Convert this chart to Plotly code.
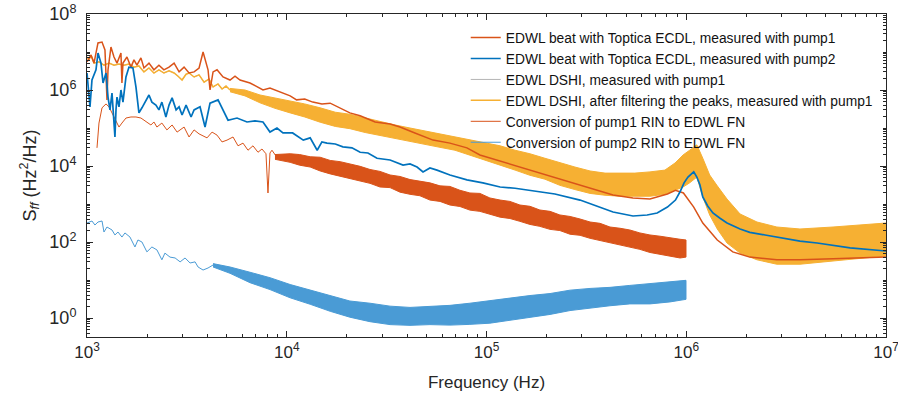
import plotly.graph_objects as go

# ---------------- data ----------------
# A: EDWL beat with Toptica ECDL, measured with pump1
A_freq = [1000, 1047, 1084, 1135, 1189, 1230, 1245, 1259, 1274, 1318,
          1365, 1413, 1479, 1496, 1514, 1585, 1660, 1718, 1778, 1862,
          1928, 2043, 2163, 2291, 2427, 2574, 2729, 2891, 3062, 3243,
          3436, 3639, 3811, 3945, 4036, 4130, 4276, 4477, 4797, 5200,
          5508, 5834, 6546, 7015, 7603, 8241, 9250, 10.4e3, 11.2e3, 12.3e3,
          13.5e3, 15.0e3, 16.5e3, 18.5e3, 20.7e3, 23.3e3, 27.7e3, 32.9e3, 36.9e3, 43.8e3,
          54.0e3, 65.6e3, 79.8e3, 92.7e3, 117e3, 139e3, 165e3, 220e3, 294e3, 370e3,
          430e3, 541e3, 658e3, 805e3, 883e3, 968e3, 1.09e6, 1.21e6, 1.43e6, 1.71e6,
          2.08e6, 2.84e6, 3.71e6, 5.43e6, 1e7]
A_val = [5.5e6, 8.3e6, 5.1e6, 1.73e7, 1.83e7, 1.13e7, 2.5e6, 5.5e5, 3.4e6, 1.35e7,
         7.4e6, 5.1e6, 9.4e6, 1.53e6, 5.1e6, 7.4e6, 4.0e6, 6.2e6, 4.5e6, 7.0e6,
         3.8e6, 5.1e6, 3.4e6, 4.5e6, 3.4e6, 4.0e6, 5.1e6, 3.0e6, 4.0e6, 2.8e6,
         3.0e6, 3.8e6, 1.0e7, 5.5e6, 3.4e6, 1.0e6, 3.0e6, 3.4e6, 2.2e6, 1.83e6,
         2.3e6, 1.83e6, 1.53e6, 1.27e6, 1.0e6, 1.13e6, 8.9e5, 7.0e5, 5.5e5, 5.8e5,
         4.8e5, 4.3e5, 4.5e5, 3.4e5, 2.5e5, 2.1e5, 1.44e5, 1.27e5, 1.06e5, 7.4e4,
         4.8e4, 4.0e4, 3.0e4, 1.95e4, 1.35e4, 1.06e4, 7.8e3, 5.1e3, 3.2e3, 2.2e3,
         1.73e3, 1.44e3, 1.35e3, 1.83e3, 2.3e3, 1.95e3, 830, 316, 113, 55,
         40, 34, 34, 36, 40]

# B: EDWL beat with Toptica ECDL, measured with pump2
B_freq = [1000, 1023, 1035, 1059, 1109, 1135, 1175, 1203, 1245, 1274,
          1303, 1334, 1365, 1380, 1397, 1413, 1446, 1479, 1514, 1567,
          1622, 1698, 1758, 1820, 1884, 1972, 2043, 2113, 2213, 2291,
          2371, 2483, 2574, 2667, 2793, 2891, 2992, 3133, 3319, 3436,
          3680, 3899, 4130, 4529, 4797, 5082, 5636, 6324, 6934, 7603,
          8241, 8933, 9572, 10.7e3, 12.1e3, 13.1e3, 14.2e3, 15.0e3, 15.9e3, 17.5e3,
          19.1e3, 21.2e3, 23.3e3, 25.5e3, 28.3e3, 32.9e3, 38.2e3, 41.4e3, 44.9e3, 48.1e3,
          52.1e3, 56.5e3, 65.6e3, 79.8e3, 95.9e3, 117e3, 139e3, 165e3, 220e3, 294e3,
          370e3, 430e3, 541e3, 637e3, 715e3, 805e3, 883e3, 931e3, 975e3, 1.02e6,
          1.09e6, 1.13e6, 1.17e6, 1.21e6, 1.28e6, 1.36e6, 1.47e6, 1.60e6, 1.86e6, 2.08e6,
          2.48e6, 3.05e6, 3.71e6, 4.52e6, 6.61e6, 1e7]
B_val = [2.8e6, 6.5e5, 3.6e5, 1.83e6, 3.4e6, 9.4e6, 5.1e6, 1.53e6, 2.8e6, 6.5e5,
         3.0e5, 8.3e5, 1.6e5, 5.8e4, 3.0e5, 6.5e5, 3.6e5, 1.0e6, 4.8e5, 2.2e6,
         4.0e6, 3.8e6, 1.2e6, 2.5e5, 3.4e5, 5.5e5, 7.4e5, 4.8e5, 4.0e5, 3.0e5,
         4.8e5, 1.95e5, 4.0e5, 6.2e5, 3.0e5, 3.6e5, 2.2e5, 4.0e5, 1.95e5, 3.0e5,
         3.6e5, 1.06e5, 4.5e5, 5.5e5, 3.0e5, 1.6e5, 1.83e5, 1.44e5, 1.53e5, 1.44e5,
         7.8e4, 1.0e5, 7.4e4, 7.4e4, 4.8e4, 5.5e4, 2.6e4, 4.3e4, 4.0e4, 3.8e4,
         3.2e4, 3.0e4, 2.3e4, 2.2e4, 1.6e4, 1.44e4, 1.06e4, 1.13e4, 9.4e3, 7.0e3,
         8.9e3, 7.8e3, 5.8e3, 4.3e3, 3.6e3, 2.8e3, 2.6e3, 2.3e3, 1.83e3, 1.27e3,
         830, 615, 483, 514, 580, 830, 1.27e3, 2.1e3, 3.6e3, 5.1e3,
         7.0e3, 5.1e3, 3.2e3, 1.53e3, 890, 580, 428, 316, 220, 180,
         153, 127, 106, 94, 70, 58]

# D: EDWL DSHI, after filtering the peaks (low-frequency trace + noise band)
D_freq = [1000, 1023, 1047, 1084, 1148, 1216, 1289, 1365, 1446, 1531,
          1622, 1718, 1820, 1928, 2043, 2163, 2291, 2427, 2574, 2729,
          2858, 2992, 3133, 3243, 3436, 3639, 3855, 4083, 4276, 4529,
          4742, 4966, 5200]
D_val = [7.4e6, 6.2e6, 8.3e6, 5.1e6, 5.5e6, 4.5e6, 5.1e6, 4.5e6, 4.8e6, 4.5e6,
         4.8e6, 4.0e6, 4.3e6, 3.0e6, 3.8e6, 2.8e6, 3.4e6, 2.8e6, 3.2e6, 2.8e6,
         2.3e6, 1.83e6, 2.6e6, 2.8e6, 2.2e6, 2.5e6, 1.6e6, 1.95e6, 1.2e6, 1.44e6,
         1.06e6, 1.27e6, 1.0e6]
D_band_freq = [5200, 6180, 7345, 8730, 10.4e3, 12.3e3, 14.7e3, 17.5e3, 20.7e3, 24.7e3,
               29.3e3, 34.9e3, 41.4e3, 49.2e3, 58.5e3, 69.5e3, 82.6e3, 98.2e3, 117e3, 139e3,
               165e3, 196e3, 233e3, 277e3, 330e3, 392e3, 466e3, 553e3, 658e3, 782e3,
               879e3, 964e3, 1.04e6, 1.13e6, 1.21e6, 1.31e6, 1.43e6, 1.60e6, 1.86e6, 2.26e6,
               2.84e6, 3.71e6, 5.43e6, 8.04e6, 1e7]
D_band_hi = [1.1e6, 1.0e6, 7.4e5, 6.2e5, 5.1e5, 4.3e5, 3.4e5, 2.6e5, 2.3e5, 1.83e5,
             1.53e5, 1.2e5, 1.0e5, 8.3e4, 7.0e4, 5.8e4, 4.8e4, 4.0e4, 3.4e4, 2.6e4,
             2.1e4, 1.6e4, 1.2e4, 9.4e3, 7.4e3, 6.5e3, 6.5e3, 6.5e3, 7.0e3, 7.8e3,
             1.2e4, 1.95e4, 2.6e4, 3.6e4, 1.6e4, 5.8e3, 3.0e3, 1.35e3, 546, 336,
             248, 220, 248, 298, 316]
D_band_lo = [9.0e5, 7.0e5, 4.6e5, 3.3e5, 2.5e5, 1.95e5, 1.42e5, 1.1e5, 9.6e4, 7.6e4,
             6.3e4, 5.2e4, 4.4e4, 3.7e4, 3.1e4, 2.6e4, 1.9e4, 1.4e4, 1.05e4, 7.8e3,
             5.7e3, 4.5e3, 3.1e3, 2.4e3, 1.9e3, 1.7e3, 1.6e3, 1.6e3, 1.6e3, 1.8e3,
             2.3e3, 2.8e3, 3.6e3, 5.1e3, 1.53e3, 514, 220, 94, 51, 34,
             26, 26, 31.6, 38, 43]

# C: EDWL DSHI, measured with pump1 (lies underneath D)
C_freq = D_freq + [11.6e3, 36.9e3, 117e3, 294e3, 658e3, 1.04e6, 1.17e6, 1.47e6, 2.34e6, 3.71e6, 1e7]
C_val = D_val + [3.0e5, 7.4e4, 1.83e4, 3.8e3, 3.2e3, 9.4e3, 1.06e4, 940, 106, 79, 113]

# E: Conversion of pump1 RIN to EDWL FN
E_freq = [1122, 1148, 1189, 1245, 1289, 1334, 1397, 1446, 1496, 1567,
          1660, 1758, 1862, 1972, 2089, 2163, 2239, 2371, 2512, 2667,
          2825, 3062, 3243, 3436, 3639, 3990, 4227, 4477, 4742, 5023,
          5383, 5702, 6039, 6397, 6776, 7178, 7516, 7870, 8054, 8241,
          8433, 8830, 9250]
E_val = [3.0e4, 1.35e5, 3.4e5, 4.3e5, 3.6e5, 2.5e5, 1.44e5, 1.06e5, 1.35e5, 1.83e5,
         1.95e5, 1.95e5, 1.83e5, 1.44e5, 1.2e5, 1.44e5, 1.06e5, 1.35e5, 8.9e4, 1.2e5,
         7.8e4, 1.06e5, 5.8e4, 8.9e4, 7.0e4, 5.5e4, 7.8e4, 6.5e4, 4.3e4, 4.8e4,
         5.8e4, 3.4e4, 4.0e4, 2.6e4, 3.4e4, 2.3e4, 2.8e4, 2.1e4, 1.95e3, 2.2e4,
         2.6e4, 1.83e4, 1.73e4]
E_band_freq = [8730, 10.4e3, 11.6e3, 13.1e3, 14.7e3, 16.5e3, 18.5e3, 20.7e3, 23.3e3, 26.1e3,
               29.3e3, 32.9e3, 36.9e3, 41.4e3, 46.4e3, 52.1e3, 58.5e3, 65.6e3, 73.6e3, 82.6e3,
               92.7e3, 104e3, 117e3, 131e3, 147e3, 165e3, 185e3, 208e3, 233e3, 262e3,
               294e3, 330e3, 370e3, 415e3, 466e3, 522e3, 586e3, 658e3, 739e3, 829e3,
               931e3, 997e3]
E_band_hi = [2.0e4, 2.1e4, 2.0e4, 1.75e4, 1.7e4, 1.4e4, 1.3e4, 1.15e4, 9.8e3, 8.1e3,
             7.2e3, 5.8e3, 5.3e3, 4.4e3, 3.9e3, 3.6e3, 3.0e3, 2.9e3, 2.3e3, 1.95e3,
             1.9e3, 1.44e3, 1.27e3, 1.17e3, 940, 870, 695, 640, 514, 470,
             403, 336, 310, 248, 230, 207, 173, 153, 142, 127,
             118, 113]
E_band_lo = [1.5e4, 1.25e4, 1.05e4, 9.4e3, 7.4e3, 6.2e3, 5.4e3, 4.7e3, 4.0e3, 3.5e3,
             2.8e3, 2.7e3, 2.05e3, 1.8e3, 1.65e3, 1.27e3, 1.17e3, 940, 860, 690,
             640, 530, 450, 415, 350, 290, 258, 215, 200, 160,
             150, 125, 110, 98, 86, 73, 64, 53, 47, 42,
             38, 40]

# F: Conversion of pump2 RIN to EDWL FN
F_freq = [1000, 1059, 1096, 1135, 1189, 1216, 1259, 1334, 1380, 1429,
          1496, 1549, 1641, 1738, 1799, 1884, 1995, 2113, 2239, 2371,
          2455, 2604, 2761, 2925, 3097, 3281, 3475, 3597, 3811, 4036,
          4276]
F_val = [316, 357, 280, 336, 357, 183, 248, 207, 153, 183,
         135, 173, 135, 74, 113, 100, 55, 74, 62, 34,
         51, 40, 38, 30, 38, 28, 30, 22, 18.3, 20.7,
         24.8]
F_band_freq = [4276, 5200, 6546, 8241, 10.4e3, 13.1e3, 16.5e3, 20.7e3, 26.1e3, 32.9e3,
               41.4e3, 52.1e3, 65.6e3, 82.6e3, 104e3, 131e3, 165e3, 208e3, 262e3, 330e3,
               415e3, 522e3, 658e3, 829e3, 997e3]
F_band_hi = [27, 22, 16, 11.5, 7.6, 5.4, 3.9, 2.8, 2.45, 2.05,
             1.9, 2.0, 2.15, 2.45, 2.9, 3.3, 3.9, 4.4, 5.4, 6.0,
             6.4, 7.2, 8.1, 9.2, 9.8]
F_band_lo = [22, 15, 8.5, 5.6, 3.4, 2.3, 1.5, 1.05, 0.8, 0.67,
             0.64, 0.67, 0.65, 0.68, 0.73, 0.86, 1.03, 1.24, 1.57, 1.78,
             2.1, 2.35, 2.35, 2.65, 3.1]

names = ["EDWL beat with Toptica ECDL, measured with pump1",
         "EDWL beat with Toptica ECDL, measured with pump2",
         "EDWL DSHI, measured with pump1",
         "EDWL DSHI, after filtering the peaks, measured with pump1",
         "Conversion of pump1 RIN to EDWL FN",
         "Conversion of pump2 RIN to EDWL FN"]

x_ticks = [1e3, 1e4, 1e5, 1e6, 1e7]
x_ticktext = ["10<sup>3</sup>", "10<sup>4</sup>", "10<sup>5</sup>", "10<sup>6</sup>", "10<sup>7</sup>"]
y_ticks = [1, 1e2, 1e4, 1e6, 1e8]
y_ticktext = ["10<sup>0</sup>", "10<sup>2</sup>", "10<sup>4</sup>", "10<sup>6</sup>", "10<sup>8</sup>"]

# ---------------- styles ----------------
COL_A = "#D95319"
COL_B = "#0072BD"
COL_C = "#B4B4B4"
COL_D = "#F6B033"
COL_E = "#D95319"
COL_F = "#4A9BD5"
AXC = "#262626"

fig = go.Figure()


def line(fx, fy, color, width, name, rank, show=True):
    fig.add_trace(go.Scatter(x=fx, y=fy, mode="lines", name=name,
                             line=dict(color=color, width=width),
                             showlegend=show, legendrank=rank, hoverinfo="skip"))


def band(fx, hi, lo, color):
    fig.add_trace(go.Scatter(x=list(fx) + list(fx)[::-1], y=list(hi) + list(lo)[::-1],
                             mode="lines", fill="toself", fillcolor=color,
                             line=dict(color=color, width=1), showlegend=False,
                             hoverinfo="skip"))


line(C_freq, C_val, COL_C, 1, names[2], 3)
line(D_freq, D_val, COL_D, 1.5, names[3], 4)
band(D_band_freq, D_band_hi, D_band_lo, COL_D)
line(E_freq, E_val, COL_E, 1, names[4], 5)
band(E_band_freq, E_band_hi, E_band_lo, COL_E)
line(F_freq, F_val, COL_F, 1, names[5], 6)
band(F_band_freq, F_band_hi, F_band_lo, COL_F)
line(A_freq, A_val, COL_A, 1.5, names[0], 1)
line(B_freq, B_val, COL_B, 1.7, names[1], 2)

x_minor = [m * 10 ** k for k in range(3, 7) for m in range(2, 10)]
y_minor = ([m * 10 ** k for k in range(-1, 8) for m in range(2, 10) if m * 10 ** k > 0.32]
           + [10, 1e3, 1e5, 1e7])

font_main = "Liberation Sans, Arial, Helvetica, sans-serif"

fig.update_layout(
    width=898, height=409,
    margin=dict(l=87, r=12, t=14, b=72),
    paper_bgcolor="white", plot_bgcolor="white",
    font=dict(family=font_main, color=AXC),
    showlegend=True,
    legend=dict(x=0.474, y=0.975, xanchor="left", yanchor="top",
                bgcolor="rgba(255,255,255,0)", borderwidth=0,
                font=dict(size=13.8, color="#111111", family=font_main),
                tracegroupgap=0),
    xaxis=dict(type="log", range=[3, 7], showgrid=False, zeroline=False,
               showline=True, linecolor=AXC, linewidth=1, mirror="ticks",
               ticks="inside", ticklen=6, tickcolor=AXC,
               tickmode="array", tickvals=x_ticks, ticktext=x_ticktext,
               tickfont=dict(size=17, color=AXC), ticklabeloverflow="allow",
               minor=dict(ticks="inside", ticklen=3, tickcolor=AXC, tickvals=x_minor),
               title=dict(text="Frequency (Hz)", font=dict(size=17, color=AXC), standoff=14),
               automargin=False),
    yaxis=dict(type="log", range=[-0.5, 8], showgrid=False, zeroline=False,
               showline=True, linecolor=AXC, linewidth=1, mirror="ticks",
               ticks="inside", ticklen=6, tickcolor=AXC,
               tickmode="array", tickvals=y_ticks, ticktext=y_ticktext,
               tickfont=dict(size=18, color=AXC), ticklabelstandoff=6,
               ticklabeloverflow="allow",
               minor=dict(ticks="inside", ticklen=3, tickcolor=AXC, tickvals=y_minor),
               title=dict(text="S<sub><i>ff</i></sub> (Hz<sup>2</sup>/Hz)",
                          font=dict(size=18, color=AXC), standoff=8),
               automargin=False),
)

# remove the default 8 px page margin so the figure sits at the window's corner
fig.write_html("out.html", config={"displayModeBar": False},
               post_script="document.body.style.margin='0px';")
